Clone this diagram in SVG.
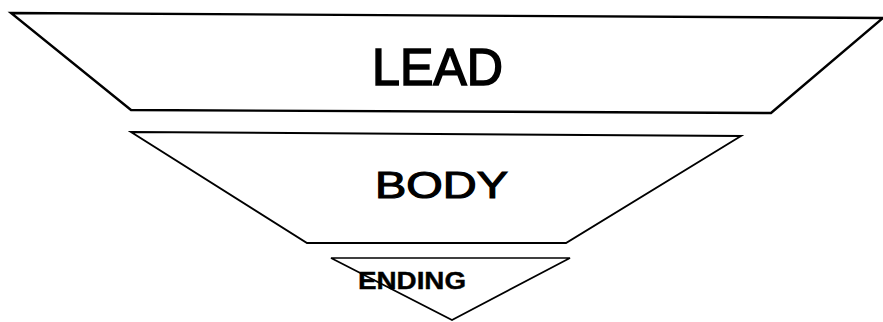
<svg xmlns="http://www.w3.org/2000/svg" width="883" height="322" viewBox="0 0 883 322">
<style>
.shape{fill:#fff;stroke:#000;stroke-linejoin:miter}
.lbl{font-family:"Liberation Sans",Arial,sans-serif;fill:#000}
</style>
<rect width="883" height="322" fill="#fff"/>
<g id="lead">
<polygon class="shape" stroke-width="2.4" points="11,13 883,18 771,113 131,110"/>
<text class="lbl" x="372" y="85" font-size="51" stroke="#000" stroke-width="1.6" textLength="131" lengthAdjust="spacingAndGlyphs">LEAD</text>
</g>
<g id="body">
<polygon class="shape" stroke-width="1.9" points="131,132 741,136 566,243 307,243"/>
<text class="lbl" x="375" y="198" font-size="36" stroke="#000" stroke-width="1.1" textLength="133" lengthAdjust="spacingAndGlyphs">BODY</text>
</g>
<g id="ending">
<polygon class="shape" stroke-width="1.7" points="331,258 570,258 452,320"/>
<text class="lbl" x="358" y="289" font-size="24" font-weight="bold" stroke="#000" stroke-width="0.4" textLength="108" lengthAdjust="spacingAndGlyphs">ENDING</text>
</g>
<g id="connectors"/>
</svg>
